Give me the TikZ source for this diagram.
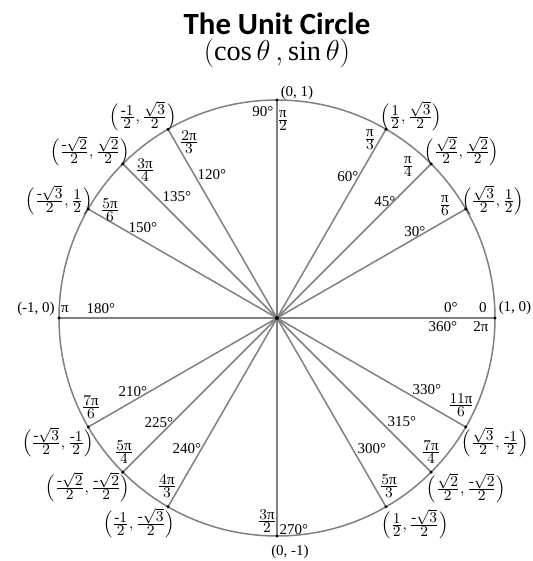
\documentclass[tikz,border=0pt]{standalone}
\usepackage{amsmath}
\usepackage{fontspec}
\setmainfont{Liberation Serif}
\newfontfamily\titlefont{Carlito}
\definecolor{UCGray}{RGB}{128,128,128}
\newcommand{\hy}{\text{-}}
\newcommand{\pit}{\text{π}}
\newcommand{\fr}[2]{\frac{\textstyle #1}{\textstyle #2}}
\newcommand{\pt}[2]{$\Bigl(\fr{#1}{2},\fr{#2}{2}\Bigr)$}

\begin{document}
\begin{tikzpicture}[x=0.6pt,y=0.6pt,
    spoke/.style={draw=UCGray,line width=0.9pt},
    lbl/.style={inner sep=0pt,font=\fontsize{9}{10}\selectfont}]
  \useasboundingbox (-277,-243) rectangle (256,318);
  \node[font=\titlefont\bfseries\fontsize{18.5}{20}\selectfont] (title) at (0,294) {The Unit Circle};
  \node[font=\fontsize{17}{19}\selectfont] (sub) at (0,265) {$(\cos\theta\,,\sin\theta)$};
  \coordinate (o) at (0,0);
  \draw[spoke] (o) circle (218);
  \foreach \a in {0,30,45,60,90,120,135,150,180,210,225,240,270,300,315,330}{
    \coordinate (p\a) at (\a:218);
    \draw[spoke] (o) -- (p\a);
    \fill (p\a) circle (1.7);
  }
  \fill (o) circle (2);
  % points on the circle
  \node[lbl] (c0) at (238,10) {(1, 0)};
  \node[lbl] (c30) at (216,118) {\pt{\sqrt{3}}{1}};
  \node[lbl] (c45) at (185,167) {\pt{\sqrt{2}}{\sqrt{2}}};
  \node[lbl] (c60) at (134,202) {\pt{1}{\sqrt{3}}};
  \node[lbl] (c90) at (20,225) {(0, 1)};
  \node[lbl] (c120) at (-134,202) {\pt{\hy1}{\sqrt{3}}};
  \node[lbl] (c135) at (-187,167) {\pt{\hy\sqrt{2}}{\sqrt{2}}};
  \node[lbl] (c150) at (-218,118) {\pt{\hy\sqrt{3}}{1}};
  \node[lbl] (c180) at (-241,9) {(-1, 0)};
  \node[lbl] (c210) at (-219,-124) {\pt{\hy\sqrt{3}}{\hy1}};
  \node[lbl] (c225) at (-189,-169) {\pt{\hy\sqrt{2}}{\hy\sqrt{2}}};
  \node[lbl] (c240) at (-138,-205) {\pt{\hy1}{\hy\sqrt{3}}};
  \node[lbl] (c270) at (13,-234) {(0, -1)};
  \node[lbl] (c300) at (138,-206) {\pt{1}{\hy\sqrt{3}}};
  \node[lbl] (c315) at (189,-170) {\pt{\sqrt{2}}{\hy\sqrt{2}}};
  \node[lbl] (c330) at (218,-124) {\pt{\sqrt{3}}{\hy1}};
  % radians
  \node[lbl] (r0) at (206,10) {0};
  \node[lbl] (r360) at (204,-9) {2π};
  \node[lbl] (r30) at (168,112) {$\fr{\pit}{6}$};
  \node[lbl] (r45) at (131,151) {$\fr{\pit}{4}$};
  \node[lbl] (r60) at (93,178) {$\fr{\pit}{3}$};
  \node[lbl] (r90) at (6,197) {$\fr{\pit}{2}$};
  \node[lbl] (r120) at (-88,176) {$\fr{2\pit}{3}$};
  \node[lbl] (r135) at (-132,148) {$\fr{3\pit}{4}$};
  \node[lbl] (r150) at (-167,108) {$\fr{5\pit}{6}$};
  \node[lbl] (r180) at (-212,9) {π};
  \node[lbl] (r210) at (-186,-89) {$\fr{7\pit}{6}$};
  \node[lbl] (r225) at (-153,-134) {$\fr{5\pit}{4}$};
  \node[lbl] (r240) at (-110,-168) {$\fr{4\pit}{3}$};
  \node[lbl] (r270) at (-10,-203) {$\fr{3\pit}{2}$};
  \node[lbl] (r300) at (112,-168) {$\fr{5\pit}{3}$};
  \node[lbl] (r315) at (154,-134) {$\fr{7\pit}{4}$};
  \node[lbl] (r330) at (184,-87) {$\fr{11\pit}{6}$};
  % degrees
  \node[lbl] (d0) at (174,10) {0°};
  \node[lbl] (d360) at (166,-9) {360°};
  \node[lbl] (d30) at (138,86) {30°};
  \node[lbl] (d45) at (108,116) {45°};
  \node[lbl] (d60) at (71,141) {60°};
  \node[lbl] (d90) at (-14,206) {90°};
  \node[lbl] (d120) at (-65,143) {120°};
  \node[lbl] (d135) at (-100,121) {135°};
  \node[lbl] (d150) at (-134,90) {150°};
  \node[lbl] (d180) at (-176,9) {180°};
  \node[lbl] (d210) at (-144,-74) {210°};
  \node[lbl] (d225) at (-118,-105) {225°};
  \node[lbl] (d240) at (-90,-131) {240°};
  \node[lbl] (d270) at (17,-212) {270°};
  \node[lbl] (d300) at (95,-131) {300°};
  \node[lbl] (d315) at (125,-104) {315°};
  \node[lbl] (d330) at (150,-72) {330°};
\end{tikzpicture}
\end{document}
